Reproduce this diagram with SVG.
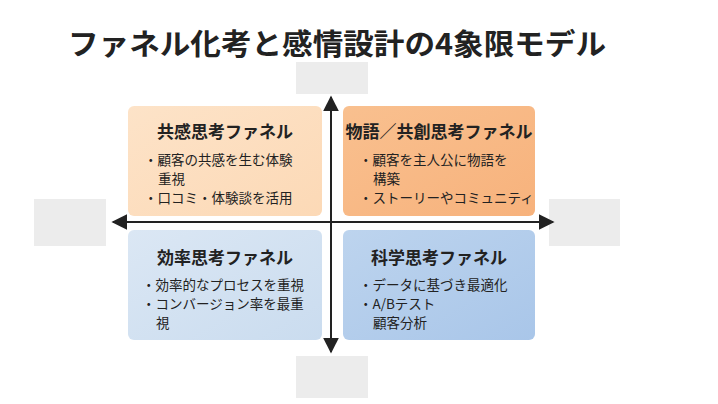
<svg xmlns="http://www.w3.org/2000/svg" width="718" height="404" viewBox="0 0 718 404">
<defs>
<linearGradient id="g1" x1="0" y1="0" x2="1" y2="1"><stop offset="0" stop-color="#fde3c8"/><stop offset="1" stop-color="#fcd9b6"/></linearGradient>
<linearGradient id="g2" x1="0" y1="0" x2="1" y2="1"><stop offset="0" stop-color="#f9c08f"/><stop offset="1" stop-color="#f7b27c"/></linearGradient>
<linearGradient id="g3" x1="0" y1="0" x2="1" y2="1"><stop offset="0" stop-color="#dbe7f4"/><stop offset="1" stop-color="#cadcef"/></linearGradient>
<linearGradient id="g4" x1="0" y1="0" x2="1" y2="1"><stop offset="0" stop-color="#bdd4ee"/><stop offset="1" stop-color="#a9c6e9"/></linearGradient>
<marker id="ah" viewBox="0 0 10 10" refX="9" refY="5" markerWidth="8" markerHeight="8" orient="auto-start-reverse"><path d="M0,0 L10,5 L0,10 z" fill="#222"/></marker>
</defs>
<style>
text{font-family:"Noto Sans CJK JP","Noto Sans",sans-serif;fill:#222}
.t{font-size:17px;font-weight:bold;text-anchor:middle}
.b{font-size:13.5px}
.g{fill:#ececec}
</style>
<rect width="718" height="404" fill="#fff"/>
<text x="68" y="55" font-size="29" font-weight="bold" textLength="538" lengthAdjust="spacingAndGlyphs">ファネル化考と感情設計の4象限モデル</text>
<rect class="g" x="296" y="62" width="72" height="32"/>
<rect class="g" x="34" y="199" width="72" height="47"/>
<rect class="g" x="549" y="199" width="71" height="47"/>
<rect class="g" x="296" y="356" width="72" height="42"/>
<g id="n1"><rect x="128" y="106" width="194" height="110" rx="6" fill="url(#g1)"/>
<text class="t" x="225" y="138">共感思考ファネル</text>
<text class="b" x="144" y="165">・顧客の共感を生む体験</text><text class="b" x="158" y="184">重視</text><text class="b" x="144" y="203">・口コミ・体験談を活用</text></g>
<g id="n2"><rect x="343" y="106" width="192" height="110" rx="6" fill="url(#g2)"/>
<text class="t" x="439" y="138" font-size="16.5">物語／共創思考ファネル</text>
<text class="b" x="359" y="165">・顧客を主人公に物語を</text><text class="b" x="373" y="184">構築</text><text class="b" x="359" y="203">・ストーリーやコミュニティ</text></g>
<g id="n3"><rect x="128" y="230" width="194" height="110" rx="6" fill="url(#g3)"/>
<text class="t" x="225" y="264">効率思考ファネル</text>
<text class="b" x="142" y="290">・効率的なプロセスを重視</text><text class="b" x="142" y="309">・コンバージョン率を最重</text><text class="b" x="156" y="328">視</text></g>
<g id="n4"><rect x="343" y="230" width="192" height="110" rx="6" fill="url(#g4)"/>
<text class="t" x="439" y="264">科学思考ファネル</text>
<text class="b" x="359" y="290">・データに基づき最適化</text><text class="b" x="359" y="309">・A/Bテスト</text><text class="b" x="373" y="328">顧客分析</text></g>
<g id="connectors" stroke="#222" stroke-width="2">
<line x1="113" y1="222" x2="553" y2="222" marker-start="url(#ah)" marker-end="url(#ah)"/>
<line x1="331" y1="97" x2="331" y2="352" marker-start="url(#ah)" marker-end="url(#ah)"/>
</g>
</svg>
